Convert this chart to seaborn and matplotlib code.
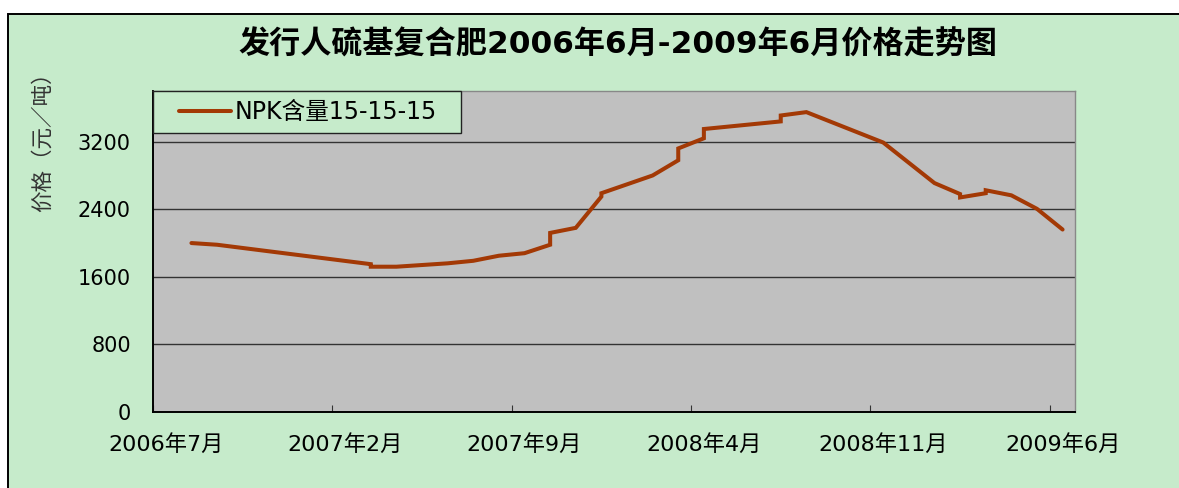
import numpy as np
import pandas as pd
import matplotlib
matplotlib.use("Agg")
import matplotlib.pyplot as plt
from matplotlib.patches import Rectangle
from matplotlib.ticker import FixedLocator, NullFormatter, FixedFormatter
import seaborn as sns

# ---------------- data ----------------
months = ["2006-08", "2006-09", "2007-03", "2007-03", "2007-04", "2007-06",
          "2007-07", "2007-08", "2007-09", "2007-10", "2007-10", "2007-11",
          "2007-12", "2007-12", "2008-02", "2008-03", "2008-03", "2008-04",
          "2008-04", "2008-07", "2008-07", "2008-08", "2008-11", "2009-01",
          "2009-02", "2009-02", "2009-03", "2009-03", "2009-04", "2009-05",
          "2009-06"]
prices = [2000, 1980, 1750, 1720, 1720, 1760,
          1790, 1850, 1880, 1980, 2120, 2180,
          2550, 2590, 2800, 2980, 3120, 3240,
          3350, 3440, 3510, 3550, 3190, 2710,
          2580, 2540, 2590, 2625, 2565, 2405,
          2160]
series_name = "NPK含量15-15-15"
tick_months = ["2006-07", "2007-02", "2007-09", "2008-04", "2008-11", "2009-06"]
tick_labels = ["2006年7月", "2007年2月", "2007年9月", "2008年4月", "2008年11月", "2009年6月"]
y_ticks = [0, 800, 1600, 2400, 3200]
title = "发行人硫基复合肥2006年6月-2009年6月价格走势图"
ylabel = "价格（元／吨）"

# ---------------- style ----------------
sns.set_theme(style="white")
plt.rcParams['font.family'] = ['DejaVu Sans', 'Noto Sans CJK SC']
plt.rcParams['axes.unicode_minus'] = False
plt.rcParams['text.color'] = 'black'

W, H = 1179, 488
GREEN = '#C6EBCB'
LINE = '#A33905'

fig = plt.figure(figsize=(W / 100, H / 100), dpi=100)
fig.patch.set_facecolor('white')

bg = Rectangle((8 / W, -0.2), 1.2, (H - 13.5) / H + 0.2, transform=fig.transFigure,
               facecolor=GREEN, edgecolor='black', lw=1.4, zorder=-10)
fig.add_artist(bg)

ax = fig.add_axes([153 / W, (H - 412) / H, 922.4 / W, 321 / H])
ax.set_facecolor('#C0C0C0')

start = pd.Period("2006-07", freq='M')


def month_index(s):
    return (pd.Period(s, freq='M') - start).n


df = pd.DataFrame({'m': [month_index(s) for s in months], 'price': prices})
sns.lineplot(data=df, x='m', y='price', estimator=None, sort=False,
             color=LINE, lw=2.9, ax=ax, label=series_name, legend=False,
             solid_joinstyle='miter')

ax.set_xlim(-0.5, 35.5)
ax.set_ylim(0, 3800)
ax.set_xlabel('')
ax.set_ylabel('')

ax.yaxis.grid(True, color='#333333', lw=1.0)
ax.xaxis.grid(False)
ax.set_axisbelow(True)

for s in ['left', 'bottom']:
    ax.spines[s].set_color('black')
    ax.spines[s].set_linewidth(1.4)
for s in ['top', 'right']:
    ax.spines[s].set_color('#888888')
    ax.spines[s].set_linewidth(1.0)

major = [month_index(t) - 0.5 for t in tick_months]
minor = [month_index(t) for t in tick_months]
ax.xaxis.set_major_locator(FixedLocator(major))
ax.xaxis.set_major_formatter(NullFormatter())
ax.xaxis.set_minor_locator(FixedLocator(minor))
ax.xaxis.set_minor_formatter(FixedFormatter(tick_labels))
ax.tick_params(axis='x', which='major', direction='in', length=5, width=0.8,
               color='#333333', bottom=True)
ax.tick_params(axis='x', which='minor', length=0, pad=16, labelsize=16,
               labelcolor='black', bottom=True)

ax.set_yticks(y_ticks)
ax.tick_params(axis='y', length=0, pad=16, labelsize=15, labelcolor='black', left=True)

# legend frame + legend
ax.add_patch(Rectangle((0, (412 - 133.3) / 321), (461 - 153) / 922.4, (133.3 - 91.3) / 321,
                       transform=ax.transAxes, facecolor=GREEN, edgecolor='#222222',
                       lw=1.0, zorder=3, clip_on=False))
fs_leg = 17
fs_px = fs_leg * 100 / 72
ax.legend(handles=[ax.lines[0]], labels=[series_name], loc='center left',
          bbox_to_anchor=((179 - 153) / 922.4, (412 - 112.3) / 321),
          frameon=False, borderpad=0, borderaxespad=0,
          handlelength=52 / fs_px, handletextpad=0.15, fontsize=fs_leg,
          labelcolor='black')

fig.text(618 / W, 1 - 44.5 / H, title, ha='center', va='center',
         fontsize=22.4, fontweight=600, color='black')
fig.text(42 / W, 1 - 137 / H, ylabel, rotation=90, ha='center', va='center',
         fontsize=15.5, color='#333333')

fig.savefig('out.png', dpi=100)
